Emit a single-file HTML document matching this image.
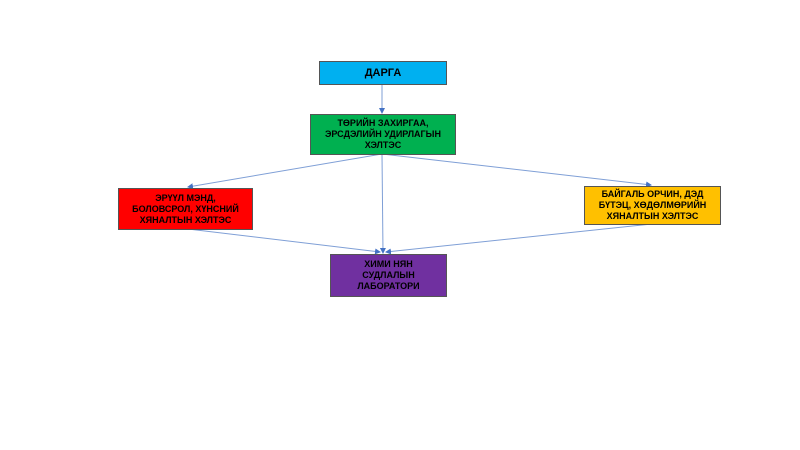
<!DOCTYPE html>
<html><head><meta charset="utf-8"><style>
body{margin:0;width:800px;height:450px;background:#fff;position:relative;overflow:hidden;font-family:"Liberation Sans",sans-serif}
.b{position:absolute;box-sizing:border-box;border:1px solid #555;display:flex;align-items:center;justify-content:center;text-align:center;font-weight:bold;font-size:9px;line-height:11px;color:#000}
svg{position:absolute;left:0;top:0}
</style></head><body>
<svg width="800" height="450">
<defs><marker id="a" markerWidth="6" markerHeight="6" refX="5" refY="3" orient="auto"><path d="M0,0 L6,3 L0,6z" fill="#4472c4"/></marker></defs>
<g stroke="#7f9fd6" stroke-width="1" fill="none" marker-end="url(#a)">
<line x1="382" y1="84" x2="382" y2="113"/>
<line x1="382" y1="154" x2="188" y2="187"/>
<line x1="382" y1="154" x2="383" y2="253"/>
<line x1="382" y1="154" x2="651" y2="185"/>
<line x1="188" y1="229" x2="380" y2="252"/>
<line x1="652" y1="224" x2="386" y2="252"/>
</g></svg>
<div class="b" style="left:319px;top:61px;width:128px;height:24px;background:#00b0f0;font-size:11px">ДАРГА</div>
<div class="b" style="left:310px;top:114px;width:146px;height:41px;background:#00b050">ТӨРИЙН ЗАХИРГАА,<br>ЭРСДЭЛИЙН УДИРЛАГЫН<br>ХЭЛТЭС</div>
<div class="b" style="left:118px;top:188px;width:135px;height:42px;background:#ff0000">ЭРҮҮЛ МЭНД,<br>БОЛОВСРОЛ, ХҮНСНИЙ<br>ХЯНАЛТЫН ХЭЛТЭС</div>
<div class="b" style="left:584px;top:186px;width:137px;height:39px;background:#ffc000">БАЙГАЛЬ ОРЧИН, ДЭД<br>БҮТЭЦ, ХӨДӨЛМӨРИЙН<br>ХЯНАЛТЫН ХЭЛТЭС</div>
<div class="b" style="left:330px;top:254px;width:117px;height:43px;background:#7030a0">ХИМИ НЯН<br>СУДЛАЛЫН<br>ЛАБОРАТОРИ</div>
</body></html>
